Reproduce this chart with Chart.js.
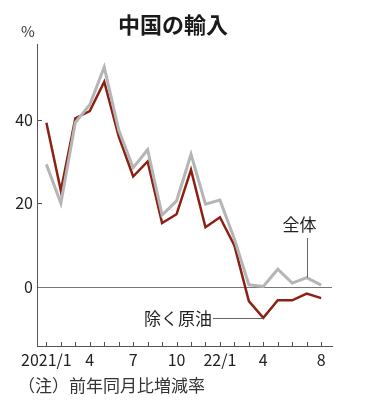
<!DOCTYPE html>
<html>
<head>
<meta charset="utf-8">
<script src="https://cdn.jsdelivr.net/npm/chart.js@4"></script>
<style>
  html, body { margin: 0; padding: 0; background: #fff; }
  #wrap { width: 378px; height: 400px; position: relative; }
</style>
</head>
<body>
<div id="wrap"><canvas id="importChart"></canvas></div>
<script>
const months = ["2021/1","2","3","4","5","6","7","8","9","10","11","12","22/1","2","3","4","5","6","7","8"];
const totalImports = [29.3, 20, 39.3, 43.5, 52.5, 37.5, 28.5, 32.8, 17.2, 20.6, 31.7, 19.8, 20.8, 11.5, 0.6, 0.2, 4.3, 1.0, 2.3, 0.5];
const exOilImports = [39.2, 23, 40.3, 42, 49, 36, 26.4, 30, 15.3, 17.4, 28, 14.3, 16.7, 10, -3.3, -7.3, -3.1, -3.1, -1.5, -2.6];
const xTickIndex = [0, 3, 6, 9, 12, 15, 19];
const xTickLabels = ["2021/1", "4", "7", "10", "22/1", "4", "8"];
const yTicks = [0, 20, 40];

const FONT = "'Noto Sans CJK JP', 'Noto Sans', sans-serif";
const RED = "#8c2012";
const GRAY = "#b5b5b5";

const toPoints = (arr) => arr.map((v, i) => ({ x: i, y: v }));

// extra drawing: title, unit, note, small tick marks, labels for the lines
const decorations = {
  id: "decorations",
  afterDraw(chart) {
    const ctx = chart.ctx;
    const xs = chart.scales.x;
    const ys = chart.scales.y;
    const area = chart.chartArea;
    ctx.save();

    // small inward tick marks
    ctx.strokeStyle = "#555";
    ctx.lineWidth = 1;
    ctx.beginPath();
    months.forEach((m, i) => {
      const px = Math.round(xs.getPixelForValue(i)) + 0.5;
      ctx.moveTo(px, area.bottom);
      ctx.lineTo(px, area.bottom - 4);
    });
    yTicks.forEach((t) => {
      if (t === 0) return;
      const py = Math.round(ys.getPixelForValue(t)) + 0.5;
      ctx.moveTo(area.left, py);
      ctx.lineTo(area.left + 5, py);
    });
    ctx.stroke();

    // title & unit & note
    ctx.fillStyle = "#1a1a1a";
    ctx.font = "bold 22px " + FONT;
    ctx.textAlign = "center";
    ctx.textBaseline = "middle";
    ctx.fillText("中国の輸入", 173, 25);

    ctx.font = "15px " + FONT;
    ctx.fillStyle = "#333";
    ctx.fillText("%", 28, 31);

    ctx.textAlign = "left";
    ctx.font = "17px " + FONT;
    ctx.fillText("（注）前年同月比増減率", 18, 386);

    // line labels with leaders
    ctx.strokeStyle = "#666";
    ctx.lineWidth = 1;
    const gx = Math.round(xs.getPixelForValue(18)) + 0.5;
    const gy = ys.getPixelForValue(totalImports[18]);
    ctx.beginPath();
    ctx.moveTo(gx, 238);
    ctx.lineTo(gx, gy);
    ctx.stroke();
    ctx.textAlign = "center";
    ctx.fillStyle = "#222";
    ctx.fillText("全体", gx - 8, 225);

    const rx = xs.getPixelForValue(15);
    const ry = Math.round(ys.getPixelForValue(exOilImports[15])) + 0.5;
    ctx.beginPath();
    ctx.moveTo(213, ry);
    ctx.lineTo(rx, ry);
    ctx.stroke();
    ctx.textAlign = "right";
    ctx.fillText("除く原油", 212, ry);

    ctx.restore();
  },
};

const ctx = document.getElementById("importChart").getContext("2d");
new Chart(ctx, {
  type: "line",
  data: {
    datasets: [
      {
        label: "全体",
        data: toPoints(totalImports),
        borderColor: GRAY,
        borderWidth: 3,
        pointRadius: 0,
        tension: 0,
      },
      {
        label: "除く原油",
        data: toPoints(exOilImports),
        borderColor: RED,
        borderWidth: 2.5,
        pointRadius: 0,
        tension: 0,
      },
    ],
  },
  options: {
    responsive: true,
    maintainAspectRatio: false,
    animation: false,
    layout: { padding: { top: 44, right: 46, left: 0, bottom: 0 } },
    plugins: {
      legend: { display: false },
      tooltip: { enabled: false },
    },
    scales: {
      x: {
        type: "linear",
        min: -0.65,
        max: 19.75,
        afterBuildTicks: (scale) => {
          scale.ticks = xTickIndex.map((v) => ({ value: v }));
        },
        afterFit: (scale) => {
          scale.height = 54;
        },
        ticks: {
          autoSkip: false,
          maxRotation: 0,
          padding: 4,
          color: "#222",
          font: { family: FONT, size: 16 },
          callback: (v) => xTickLabels[xTickIndex.indexOf(v)],
        },
        grid: { display: false, drawTicks: false },
        border: { display: true, color: "#555", width: 1 },
      },
      y: {
        min: -14,
        max: 58,
        afterBuildTicks: (scale) => {
          scale.ticks = yTicks.map((v) => ({ value: v }));
        },
        afterFit: (scale) => {
          scale.width = 37;
        },
        ticks: {
          padding: 4,
          color: "#222",
          font: { family: FONT, size: 16 },
        },
        grid: {
          drawTicks: false,
          color: (c) => (c.tick && c.tick.value === 0 ? "#777" : "rgba(0,0,0,0)"),
          lineWidth: 1,
        },
        border: { display: true, color: "#555", width: 1 },
      },
    },
  },
  plugins: [decorations],
});
</script>
</body>
</html>
